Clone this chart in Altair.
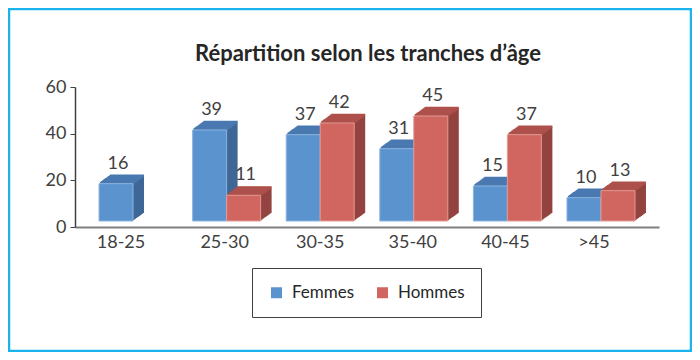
import altair as alt
import pandas as pd

# ---- data ----
categories = ["18-25", "25-30", "30-35", "35-40", "40-45", ">45"]
femmes = [16, 39, 37, 31, 15, 10]
hommes = [None, 11, 42, 45, 37, 13]
series = ["Femmes", "Hommes"]
y_ticks = [0, 20, 40, 60]
title_text = "Répartition selon les tranches d’âge"

rows = []
for s, vals in zip(series, [femmes, hommes]):
    for c, v in zip(categories, vals):
        if v is not None:
            rows.append({"cat": c, "serie": s, "val": v})
df = pd.DataFrame(rows)

# ---- style ----
FONT = "Lato"
front = {"Femmes": "#5B93CF", "Hommes": "#D0665F"}
topc = {"Femmes": "#4A79B0", "Hommes": "#AE504B"}
sidec = {"Femmes": "#3F6796", "Hommes": "#934340"}
edge = {"Femmes": "#8DB4E0", "Hommes": "#E39A95"}
slot = {"Femmes": -17, "Hommes": 17}
W, DEPTH_X, DEPTH_Y, LIFT, STEPS = 34, 11, 8, 6, 11
# small per-label horizontal nudges (perspective look of the original)
label_nudge = {"18-25": -12, "25-30": -2, "30-35": 0, "35-40": -1, "40-45": -2, ">45": -7}
nudge_expr = " : ".join(f"datum.value == '{k}' ? {v}" for k, v in label_nudge.items()) + " : 0"

xenc = alt.X("cat:N", sort=categories, title=None,
             scale=alt.Scale(paddingInner=0, paddingOuter=0.12),
             axis=alt.Axis(labelOffset=alt.ExprRef(nudge_expr)))
yenc = alt.Y("val:Q", title=None, scale=alt.Scale(domain=[0, 60]),
             axis=alt.Axis(values=y_ticks))

base = alt.Chart(df)
layers = []
for s in series:
    d = base.transform_filter(alt.datum.serie == s)
    # extruded body (side colour)
    for i in range(STEPS, 0, -1):
        dx = slot[s] + i * DEPTH_X / STEPS
        dy = LIFT + i * DEPTH_Y / STEPS
        layers.append(d.mark_bar(width=W, xOffset=dx, yOffset=-dy, y2Offset=-dy,
                                 color=sidec[s]).encode(x=xenc, y=yenc, y2=alt.datum(0)))
    # top face strips
    for i in range(STEPS, 0, -1):
        dx = slot[s] + i * DEPTH_X / STEPS
        dy = LIFT + i * DEPTH_Y / STEPS
        layers.append(d.mark_bar(width=W, xOffset=dx, yOffset=-dy - 1.2, y2Offset=-dy + 1.2,
                                 color=topc[s]).encode(x=xenc, y=yenc, y2=alt.Y2("val:Q")))
    # front face
    layers.append(d.mark_bar(width=W, xOffset=slot[s], yOffset=-LIFT, y2Offset=-LIFT,
                             stroke=edge[s], strokeWidth=1).encode(
        x=xenc, y=yenc, y2=alt.datum(0),
        color=alt.Color("serie:N", scale=alt.Scale(domain=series, range=[front[k] for k in series]),
                        legend=alt.Legend(title=None, orient="none", legendX=177, legendY=181,
                                          direction="horizontal", symbolType="square",
                                          symbolSize=121, symbolStrokeWidth=0,
                                          labelFont=FONT, labelFontSize=17, labelColor="#262626",
                                          labelOffset=7, columnPadding=19, padding=16,
                                          strokeColor="#404040", fillColor="white"))))
    # value labels
    layers.append(d.mark_text(dx=slot[s] + 2, dy=-21, baseline="alphabetic", font=FONT,
                              fontSize=18, color="#404040").encode(x=xenc, y=yenc, text="val:Q"))

one = alt.Chart(pd.DataFrame({"t": [title_text]}))
title = one.mark_text(font=FONT, fontSize=22, fontWeight="bold", color="#262626",
                      align="center", baseline="alphabetic").encode(
    x=alt.value(293), y=alt.value(-26), text="t:N")

frame = one.mark_rect(filled=False, stroke="#1BB2EE", strokeWidth=2.5).encode(
    x=alt.value(-66), x2=alt.value(616), y=alt.value(-78), y2=alt.value(264))

chart = alt.layer(*layers, title, frame).properties(
    width=584, height=140,
    autosize=alt.AutoSizeParams(type="none"),
    padding={"left": 67, "top": 79, "right": 33, "bottom": 125},
    background="white",
).configure_view(stroke=None).configure_axisX(
    labelFont=FONT, labelFontSize=18, labelColor="#404040", labelAngle=0, labelPadding=6,
    ticks=False, domainColor="#7F7F7F", domainWidth=2, grid=False,
).configure_axisY(
    labelFont=FONT, labelFontSize=18, labelColor="#404040", labelPadding=4,
    tickColor="#404040", tickSize=5, domainColor="#404040", domainWidth=1.5, grid=False,
)

chart.save("out.html", embed_options={"renderer": "svg", "actions": False})
